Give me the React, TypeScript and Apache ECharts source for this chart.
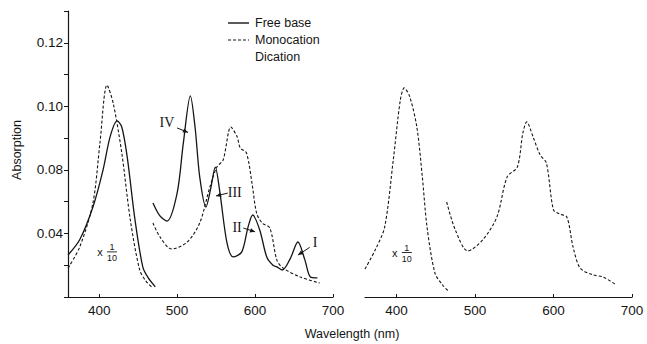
import React, { useEffect, useRef } from "react";
import * as echarts from "echarts";

// Soret region (plotted at x 1/10) and visible region for each species
const freeBaseSoretNm = [360, 375, 392, 405, 414, 423, 429, 436, 446, 456, 463, 472];
const freeBaseSoretAbs = [0.0532, 0.058, 0.0683, 0.08, 0.0904, 0.0954, 0.0935, 0.084, 0.0642, 0.0494, 0.046, 0.0432];

const freeBaseVisNm = [469, 478, 487, 500, 508, 517, 523, 529, 537, 543, 549, 555, 564, 572, 583, 591, 597, 606, 615, 623, 628, 635, 645, 655, 664, 671, 680];
const freeBaseVisAbs = [0.0696, 0.0655, 0.0639, 0.0727, 0.0885, 0.1033, 0.0935, 0.0778, 0.0683, 0.074, 0.0809, 0.0727, 0.057, 0.0526, 0.0542, 0.062, 0.0658, 0.0611, 0.0526, 0.05, 0.0495, 0.0485, 0.052, 0.0573, 0.0516, 0.0463, 0.046];

const monoSoretNm = [360, 375, 392, 401, 410, 418, 429, 440, 452, 460, 469];
const monoSoretAbs = [0.0491, 0.0557, 0.0696, 0.0885, 0.1067, 0.101, 0.0853, 0.0642, 0.0485, 0.045, 0.0428];

const monoVisNm = [469, 478, 493, 513, 529, 542, 551, 559, 569, 577, 581, 589, 596, 602, 609, 619, 628, 636, 658, 683];
const monoVisAbs = [0.0633, 0.0589, 0.0551, 0.0573, 0.0633, 0.0746, 0.0809, 0.0831, 0.0935, 0.0904, 0.0869, 0.0853, 0.0759, 0.0664, 0.0633, 0.0617, 0.0516, 0.0491, 0.0463, 0.0444];

const diSoretNm = [360, 373, 385, 396, 405, 410, 417, 426, 433, 439, 449, 458, 466];
const diSoretAbs = [0.0488, 0.0548, 0.062, 0.0831, 0.102, 0.1058, 0.103, 0.0935, 0.0778, 0.062, 0.0476, 0.044, 0.0419];

const diVisNm = [464, 475, 491, 510, 528, 541, 554, 561, 566, 574, 583, 591, 600, 608, 617, 625, 634, 650, 663, 678];
const diVisAbs = [0.0699, 0.0611, 0.0545, 0.058, 0.0652, 0.0778, 0.0809, 0.0916, 0.0951, 0.0904, 0.0847, 0.0822, 0.0674, 0.0661, 0.0652, 0.0557, 0.0491, 0.047, 0.0463, 0.0441];

// Axis ticks
const xTickValues = [400, 500, 600, 700];
const yTickValues = [0.06, 0.08, 0.1, 0.12];
const yTickLabels = ["0.04", "0.08", "0.10", "0.12"];

// Band annotations on the free-base spectrum (wavelength, absorption)
const bandNames = ["IV", "III", "II", "I"];
const bandTextAt = [[487, 0.0948], [574, 0.073], [577, 0.062], [677, 0.0573]];
const bandArrowFrom = [[500, 0.0932], [565, 0.0727], [585, 0.0617], [670, 0.0556]];
const bandArrowTo = [[514, 0.0918], [550, 0.0718], [600, 0.0605], [655, 0.0532]];

// "x 1/10" scale marks for the Soret bands, one per panel
const scaleMarkAt = [[401, 0.0542], [398, 0.0540]];

const FONT = "'Liberation Sans', Arial, sans-serif";
const INK = "#151515";

const pairs = (xs: number[], ys: number[]) => xs.map((x, i) => [x, ys[i]]);

function lineSeries(name: string, grid: number, xs: number[], ys: number[], dashed: boolean) {
  return {
    name,
    type: "line",
    xAxisIndex: grid,
    yAxisIndex: grid,
    data: pairs(xs, ys),
    showSymbol: false,
    smooth: 0.3,
    lineStyle: {
      color: INK,
      width: dashed ? 1.1 : 1.3,
      type: dashed ? [3, 2] : "solid",
    },
  };
}

function xAxisFor(grid: number) {
  return {
    type: "value",
    gridIndex: grid,
    min: 360,
    max: 700,
    axisLine: { show: true, lineStyle: { color: INK, width: 1.2 } },
    axisTick: { show: true, inside: true, length: 3, customValues: xTickValues, lineStyle: { color: INK } },
    axisLabel: { customValues: xTickValues, color: INK, fontSize: 13.5, fontFamily: FONT, margin: 6 },
    splitLine: { show: false },
  };
}

function yAxisFor(grid: number, visible: boolean) {
  return {
    type: "value",
    gridIndex: grid,
    min: 0.04,
    max: 0.13,
    interval: 0.01,
    show: visible,
    axisLine: { show: true, lineStyle: { color: INK, width: 1.2 } },
    axisTick: { show: true, inside: false, length: 4, lineStyle: { color: INK } },
    axisLabel: {
      color: INK,
      fontSize: 13.5,
      fontFamily: FONT,
      margin: 5,
      formatter: (v: number) => {
        const i = yTickValues.findIndex((t) => Math.abs(t - v) < 1e-6);
        return i >= 0 ? yTickLabels[i] : "";
      },
    },
    splitLine: { show: false },
  };
}

export default function App() {
  const ref = useRef<HTMLDivElement>(null);

  useEffect(() => {
    if (!ref.current) return;
    const chart = echarts.init(ref.current, null, { renderer: "svg" });

    chart.setOption({
      animation: false,
      backgroundColor: "#ffffff",
      grid: [
        { left: 68, right: 314, top: 11, bottom: 47 },
        { left: 365, right: 15, top: 11, bottom: 47 },
      ],
      xAxis: [xAxisFor(0), xAxisFor(1)],
      yAxis: [yAxisFor(0, true), yAxisFor(1, false)],
      series: [
        lineSeries("Free base", 0, freeBaseSoretNm, freeBaseSoretAbs, false),
        lineSeries("Free base", 0, freeBaseVisNm, freeBaseVisAbs, false),
        lineSeries("Monocation", 0, monoSoretNm, monoSoretAbs, true),
        lineSeries("Monocation", 0, monoVisNm, monoVisAbs, true),
        lineSeries("Dication", 1, diSoretNm, diSoretAbs, true),
        lineSeries("Dication", 1, diVisNm, diVisAbs, true),
      ],
    });

    const toPx = (p: number[], grid = 0) => chart.convertToPixel({ gridIndex: grid }, p) as number[];

    const elements: any[] = [];

    // Legend block
    const legendRows = [
      { label: "Free base", line: "solid" },
      { label: "Monocation", line: "dashed" },
      { label: "Dication", line: "none" },
    ];
    legendRows.forEach((row, i) => {
      const y = 23 + i * 17;
      if (row.line !== "none") {
        elements.push({
          type: "line",
          shape: { x1: 228, y1: y, x2: 249, y2: y },
          style: { stroke: INK, lineWidth: row.line === "solid" ? 1.4 : 1.1, lineDash: row.line === "dashed" ? [3, 2] : null },
        });
      }
      elements.push({
        type: "text",
        style: { text: row.label, x: 255, y, verticalAlign: "middle", align: "left", fontSize: 12.5, fontFamily: FONT, fill: INK },
      });
    });

    // Band labels and arrows
    bandNames.forEach((name, i) => {
      const t = toPx(bandTextAt[i]);
      const a = toPx(bandArrowFrom[i]);
      const b = toPx(bandArrowTo[i]);
      elements.push({
        type: "text",
        style: { text: name, x: t[0], y: t[1], align: "center", verticalAlign: "middle", fontSize: 14, fontFamily: "'Liberation Serif', serif", fill: INK },
      });
      elements.push({
        type: "line",
        shape: { x1: a[0], y1: a[1], x2: b[0], y2: b[1] },
        style: { stroke: INK, lineWidth: 1 },
      });
      const dx = b[0] - a[0];
      const dy = b[1] - a[1];
      const len = Math.hypot(dx, dy) || 1;
      const ux = dx / len;
      const uy = dy / len;
      const hl = 5;
      const hw = 2.2;
      elements.push({
        type: "polygon",
        shape: {
          points: [
            [b[0], b[1]],
            [b[0] - ux * hl - uy * hw, b[1] - uy * hl + ux * hw],
            [b[0] - ux * hl + uy * hw, b[1] - uy * hl - ux * hw],
          ],
        },
        style: { fill: INK },
      });
    });

    // x 1/10 marks
    scaleMarkAt.forEach((p, grid) => {
      const c = toPx(p, grid);
      elements.push({
        type: "text",
        style: { text: "x", x: c[0], y: c[1], align: "center", verticalAlign: "middle", fontSize: 11, fontFamily: FONT, fill: INK },
      });
      const fx = c[0] + 12;
      elements.push({
        type: "text",
        style: { text: "1", x: fx, y: c[1] - 5, align: "center", verticalAlign: "middle", fontSize: 9, fontFamily: FONT, fill: INK },
      });
      elements.push({
        type: "line",
        shape: { x1: fx - 5, y1: c[1], x2: fx + 5, y2: c[1] },
        style: { stroke: INK, lineWidth: 0.9 },
      });
      elements.push({
        type: "text",
        style: { text: "10", x: fx, y: c[1] + 6, align: "center", verticalAlign: "middle", fontSize: 9, fontFamily: FONT, fill: INK },
      });
    });

    // Axis titles
    elements.push({
      type: "text",
      style: { text: "Wavelength (nm)", x: 352, y: 334, align: "center", verticalAlign: "middle", fontSize: 12.5, fontFamily: FONT, fill: INK },
    });
    elements.push({
      type: "text",
      x: 17,
      y: 150,
      rotation: Math.PI / 2,
      style: { text: "Absorption", x: 0, y: 0, align: "center", verticalAlign: "middle", fontSize: 12.5, fontFamily: FONT, fill: INK },
    });

    chart.setOption({ graphic: { elements } });

    return () => chart.dispose();
  }, []);

  return (
    <div
      ref={ref}
      style={{ position: "fixed", left: 0, top: 0, width: 647, height: 344, background: "#fff" }}
    />
  );
}
